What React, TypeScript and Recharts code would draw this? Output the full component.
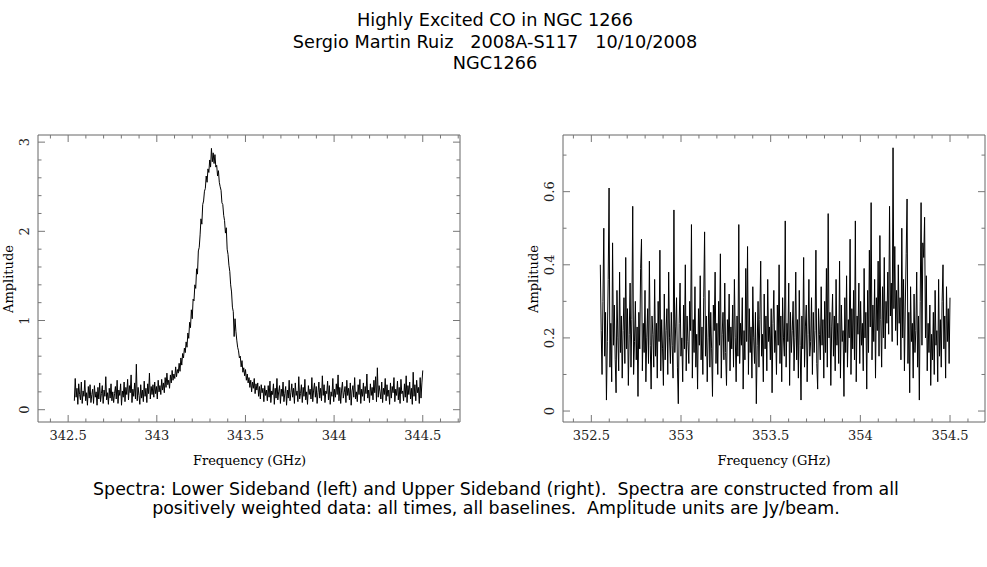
import React from 'react';
import { LineChart, Line, XAxis, YAxis } from 'recharts';

// Lower sideband channels (GHz)
const LSB_START = 342.535;
const LSB_STEP = 0.004925;
const lsbAmplitude = [
  // baseline below the line
  0.1, 0.35, 0.14, 0.24, 0.06, 0.29, 0.17, 0.11, 0.31, 0.07,
  0.21, 0.15, 0.33, 0.1, 0.19, 0.05, 0.26, 0.13, 0.28, 0.08,
  0.17, 0.23, 0.07, 0.27, 0.14, 0.2, 0.05, 0.25, 0.12, 0.3,
  0.09, 0.18, 0.27, 0.07, 0.22, 0.15, 0.37, 0.11, 0.19, 0.06,
  0.24, 0.13, 0.29, 0.1, 0.2, 0.08, 0.18, 0.26, 0.12, 0.33,
  0.07, 0.22, 0.16, 0.29, 0.05, 0.21, 0.14, 0.31, 0.09, 0.25,
  0.17, 0.34, 0.11, 0.27, 0.19, 0.39, 0.08, 0.23, 0.15, 0.3,
  0.12, 0.51, 0.1, 0.25, 0.16, 0.06, 0.28, 0.13, 0.22, 0.09,
  0.32, 0.15, 0.24, 0.08, 0.29, 0.18, 0.41, 0.12, 0.26, 0.17,
  // CO line
  0.28, 0.14, 0.31, 0.18, 0.26, 0.12, 0.33, 0.2, 0.27, 0.17,
  0.34, 0.22, 0.3, 0.19, 0.36, 0.25, 0.41, 0.28, 0.33, 0.24,
  0.39, 0.3, 0.44, 0.33, 0.4, 0.35, 0.48, 0.37, 0.45, 0.41,
  0.52, 0.43, 0.58, 0.5, 0.63, 0.58, 0.69, 0.64, 0.76, 0.7,
  0.86, 0.8, 0.98, 0.92, 1.12, 1.02, 1.24, 1.22, 1.4, 1.36,
  1.58, 1.52, 1.78, 1.82, 1.96, 2.14, 2.08, 2.3, 2.34, 2.45,
  2.48, 2.62, 2.55, 2.7, 2.66, 2.8, 2.72, 2.93, 2.78, 2.88,
  2.76, 2.86, 2.72, 2.74, 2.62, 2.68, 2.55, 2.5, 2.46, 2.32,
  2.3, 2.18, 2.12, 1.98, 2.04, 1.8, 1.74, 1.62, 1.55, 1.4,
  1.32, 1.15, 1.1, 0.82, 1.02, 0.88, 0.78, 0.7, 0.66, 0.58,
  0.6, 0.48, 0.55, 0.42, 0.47, 0.38, 0.45, 0.33, 0.4, 0.3,
  0.36, 0.25, 0.33, 0.2, 0.31, 0.24, 0.35, 0.18, 0.29, 0.22,
  0.3, 0.15, 0.26, 0.12, 0.28, 0.19, 0.24, 0.09, 0.27, 0.16, 0.22,
  // baseline above the line
  0.1, 0.27, 0.14, 0.32, 0.08, 0.21, 0.17, 0.29, 0.06, 0.24,
  0.13, 0.35, 0.11, 0.2, 0.27, 0.07, 0.23, 0.15, 0.31, 0.09,
  0.18, 0.26, 0.05, 0.22, 0.13, 0.33, 0.1, 0.19, 0.29, 0.14,
  0.24, 0.07, 0.3, 0.16, 0.21, 0.09, 0.37, 0.12, 0.18, 0.28,
  0.08, 0.25, 0.15, 0.34, 0.11, 0.2, 0.06, 0.27, 0.17, 0.23,
  0.12, 0.36, 0.09, 0.22, 0.3, 0.14, 0.26, 0.07, 0.19, 0.31,
  0.13, 0.24, 0.1, 0.38, 0.16, 0.28, 0.08, 0.21, 0.18, 0.32,
  0.11, 0.27, 0.06, 0.2, 0.15, 0.35, 0.09, 0.23, 0.14, 0.29,
  0.17, 0.39, 0.1, 0.25, 0.07, 0.22, 0.31, 0.13, 0.19, 0.26,
  0.08, 0.33, 0.16, 0.24, 0.11, 0.3, 0.05, 0.21, 0.27, 0.14,
  0.36, 0.12, 0.2, 0.09, 0.28, 0.17, 0.34, 0.07, 0.23, 0.15,
  0.3, 0.1, 0.26, 0.18, 0.4, 0.13, 0.22, 0.08, 0.29, 0.16,
  0.25, 0.11, 0.33, 0.19, 0.37, 0.09, 0.47, 0.14, 0.27, 0.2,
  0.12, 0.31, 0.08, 0.24, 0.17, 0.35, 0.1, 0.28, 0.15, 0.22,
  0.06, 0.3, 0.13, 0.26, 0.19, 0.36, 0.09, 0.23, 0.16, 0.32,
  0.11, 0.25, 0.07, 0.34, 0.18, 0.21, 0.1, 0.29, 0.14, 0.38,
  0.08, 0.27, 0.17, 0.31, 0.12, 0.24, 0.06, 0.42, 0.15, 0.28,
  0.1, 0.33, 0.19, 0.25, 0.07, 0.36, 0.13, 0.3, 0.44,
];

// Upper sideband channels
const USB_START = 352.55;
const USB_STEP = 0.004887;
const usbAmplitude = [
  0.4, 0.22, 0.1, 0.3, 0.5, 0.15, 0.27, 0.03, 0.19, 0.36,
  0.61, 0.12, 0.24, 0.08, 0.46, 0.18, 0.29, 0.14, 0.05, 0.33,
  0.2, 0.11, 0.38, 0.16, 0.26, 0.09, 0.22, 0.31, 0.13, 0.42,
  0.17, 0.28, 0.07, 0.21, 0.35, 0.12, 0.25, 0.56, 0.1, 0.19,
  0.3, 0.14, 0.23, 0.04, 0.27, 0.17, 0.39, 0.47, 0.11, 0.24,
  0.16, 0.33, 0.08, 0.2, 0.28, 0.13, 0.41, 0.18, 0.06, 0.26,
  0.21, 0.12, 0.36, 0.15, 0.24, 0.09, 0.3, 0.19, 0.44, 0.11,
  0.25, 0.17, 0.07, 0.32, 0.14, 0.22, 0.28, 0.1, 0.38, 0.2,
  0.13, 0.27, 0.18, 0.09, 0.55, 0.16, 0.23, 0.31, 0.12, 0.02,
  0.24, 0.35, 0.15, 0.2, 0.08, 0.29, 0.17, 0.4, 0.11, 0.26,
  0.19, 0.13, 0.3, 0.22, 0.51, 0.09, 0.25, 0.16, 0.34, 0.12,
  0.21, 0.06, 0.28, 0.18, 0.37, 0.14, 0.23, 0.1, 0.31, 0.49,
  0.15, 0.26, 0.08, 0.2, 0.33, 0.12, 0.27, 0.17, 0.04, 0.29,
  0.22, 0.38, 0.13, 0.24, 0.1, 0.3, 0.18, 0.43, 0.09, 0.21,
  0.27, 0.14, 0.35, 0.16, 0.07, 0.25, 0.19, 0.32, 0.11, 0.23,
  0.17, 0.29, 0.12, 0.36, 0.2, 0.08, 0.26, 0.15, 0.51, 0.13,
  0.24, 0.18, 0.31, 0.06, 0.22, 0.14, 0.39, 0.19, 0.45, 0.1,
  0.28, 0.16, 0.23, 0.09, 0.34, 0.2, 0.13, 0.27, 0.02, 0.18,
  0.3, 0.12, 0.25, 0.41, 0.15, 0.21, 0.08, 0.32, 0.17, 0.26,
  0.11, 0.36, 0.19, 0.23, 0.14, 0.28, 0.05, 0.24, 0.33, 0.16,
  0.22, 0.1, 0.29, 0.18, 0.4, 0.13, 0.26, 0.08, 0.31, 0.2,
  0.15, 0.52, 0.12, 0.24, 0.19, 0.35, 0.07, 0.27, 0.16, 0.22,
  0.3, 0.11, 0.2, 0.38, 0.14, 0.25, 0.09, 0.33, 0.18, 0.03,
  0.26, 0.17, 0.42, 0.12, 0.23, 0.29, 0.08, 0.21, 0.36, 0.15,
  0.19, 0.31, 0.1, 0.27, 0.16, 0.22, 0.44, 0.13, 0.06, 0.28,
  0.21, 0.14, 0.34, 0.18, 0.25, 0.09, 0.3, 0.16, 0.39, 0.12,
  0.54, 0.2, 0.27, 0.07, 0.23, 0.32, 0.15, 0.26, 0.11, 0.36,
  0.18, 0.24, 0.13, 0.41, 0.09, 0.29, 0.19, 0.22, 0.04, 0.31,
  0.16, 0.37, 0.12, 0.25, 0.2, 0.47, 0.1, 0.28, 0.17, 0.33,
  0.14, 0.52, 0.08, 0.26, 0.21, 0.35, 0.13, 0.3, 0.18, 0.24,
  0.11, 0.39, 0.2, 0.27, 0.06, 0.33, 0.16, 0.44, 0.23, 0.57,
  0.14, 0.29, 0.19, 0.36, 0.09, 0.31, 0.22, 0.41, 0.15, 0.48,
  0.25, 0.12, 0.34, 0.2, 0.42, 0.17, 0.3, 0.24, 0.38, 0.21,
  0.56, 0.26, 0.35, 0.19, 0.72, 0.28, 0.45, 0.22, 0.33, 0.18,
  0.4, 0.24, 0.31, 0.14, 0.5, 0.2, 0.36, 0.11, 0.29, 0.43,
  0.58, 0.13, 0.27, 0.05, 0.34, 0.19, 0.24, 0.09, 0.32, 0.16,
  0.22, 0.38, 0.12, 0.26, 0.03, 0.3, 0.57, 0.18, 0.46, 0.42,
  0.53, 0.2, 0.37, 0.11, 0.24, 0.16, 0.29, 0.07, 0.21, 0.14,
  0.27, 0.1, 0.33, 0.18, 0.22, 0.08, 0.36, 0.15, 0.25, 0.12,
  0.3, 0.4, 0.17, 0.26, 0.09, 0.34, 0.19, 0.28, 0.13, 0.31,
];

// Tick positions (majors get labels)
const lsbFreqTicks = [342.4, 342.5, 342.6, 342.7, 342.8, 342.9, 343, 343.1, 343.2, 343.3, 343.4, 343.5, 343.6, 343.7, 343.8, 343.9, 344, 344.1, 344.2, 344.3, 344.4, 344.5, 344.6, 344.7];
const lsbFreqMajors = [342.5, 343, 343.5, 344, 344.5];
const lsbAmpTicks = [0, 0.2, 0.4, 0.6, 0.8, 1, 1.2, 1.4, 1.6, 1.8, 2, 2.2, 2.4, 2.6, 2.8, 3];
const lsbAmpMajors = [0, 1, 2, 3];
const usbFreqTicks = [352.4, 352.5, 352.6, 352.7, 352.8, 352.9, 353, 353.1, 353.2, 353.3, 353.4, 353.5, 353.6, 353.7, 353.8, 353.9, 354, 354.1, 354.2, 354.3, 354.4, 354.5, 354.6];
const usbFreqMajors = [352.5, 353, 353.5, 354, 354.5];
const usbAmpTicks = [0, 0.1, 0.2, 0.3, 0.4, 0.5, 0.6, 0.7];
const usbAmpMajors = [0, 0.2, 0.4, 0.6];

const titleLines = ['Highly Excited CO in NGC 1266', 'Sergio Martin Ruiz   2008A-S117   10/10/2008', 'NGC1266'];
const captionLines = [
  'Spectra: Lower Sideband (left) and Upper Sideband (right).  Spectra are constructed from all',
  'positively weighted data: all times, all baselines.  Amplitude units are Jy/beam.',
];

const FRAME = '#666';
const TICK = '#777';
const TICK_FONT = '"DejaVu Serif", serif';
const TICK_SIZE = 13;

const isMajor = (v: number, majors: number[]) => majors.some((m) => Math.abs(m - v) < 1e-6);

const makeTick = (side: 'bottom' | 'top' | 'left' | 'right', majors: number[], showLabel: boolean) =>
  function Tick(props: any) {
    const { x, y, payload } = props;
    const major = isMajor(payload.value, majors);
    const len = major ? 7 : 3.5;
    let x2 = x;
    let y2 = y;
    if (side === 'bottom') y2 = y - len;
    if (side === 'top') y2 = y + len;
    if (side === 'left') x2 = x + len;
    if (side === 'right') x2 = x - len;
    return (
      <g>
        <line x1={x} y1={y} x2={x2} y2={y2} stroke={TICK} strokeWidth={1} />
        {showLabel && major && side === 'bottom' && (
          <text x={x} y={y + 13} textAnchor="middle" dominantBaseline="central" fontFamily={TICK_FONT} fontSize={TICK_SIZE} fill="#222">
            {String(payload.value)}
          </text>
        )}
        {showLabel && major && side === 'left' && (
          <text
            x={x - 13}
            y={y}
            textAnchor="middle"
            dominantBaseline="central"
            fontFamily={TICK_FONT}
            fontSize={TICK_SIZE}
            fill="#222"
            transform={`rotate(-90 ${x - 13} ${y})`}
          >
            {String(payload.value)}
          </text>
        )}
      </g>
    );
  };

interface PanelProps {
  left: number;
  width: number;
  plotLeft: number;
  start: number;
  step: number;
  amps: number[];
  xDomain: [number, number];
  yDomain: [number, number];
  xTicks: number[];
  xMajors: number[];
  yTicks: number[];
  yMajors: number[];
}

function Panel(p: PanelProps) {
  const data = p.amps.map((a, i) => ({ freq: p.start + i * p.step, amp: a }));
  const plotRight = p.plotLeft + 422;
  return (
    <div style={{ position: 'absolute', left: p.left, top: 120 }}>
      <LineChart
        width={p.width}
        height={360}
        data={data}
        margin={{ top: 10, left: p.plotLeft - 30, right: p.width - plotRight - 1, bottom: 28 }}
      >
        <XAxis
          xAxisId="b"
          dataKey="freq"
          type="number"
          domain={p.xDomain}
          allowDataOverflow
          ticks={p.xTicks}
          interval={0}
          height={30}
          tickSize={0}
          tickMargin={0}
          tickLine={false}
          axisLine={{ stroke: FRAME }}
          tick={makeTick('bottom', p.xMajors, true)}
        />
        <XAxis
          xAxisId="t"
          orientation="top"
          dataKey="freq"
          type="number"
          domain={p.xDomain}
          allowDataOverflow
          ticks={p.xTicks}
          interval={0}
          height={5}
          tickSize={0}
          tickMargin={0}
          tickLine={false}
          axisLine={{ stroke: FRAME }}
          tick={makeTick('top', p.xMajors, false)}
        />
        <YAxis
          yAxisId="l"
          type="number"
          domain={p.yDomain}
          allowDataOverflow
          ticks={p.yTicks}
          interval={0}
          width={30}
          tickSize={0}
          tickMargin={0}
          tickLine={false}
          axisLine={{ stroke: FRAME }}
          tick={makeTick('left', p.yMajors, true)}
        />
        <YAxis
          yAxisId="r"
          orientation="right"
          type="number"
          domain={p.yDomain}
          allowDataOverflow
          ticks={p.yTicks}
          interval={0}
          width={1}
          tickSize={0}
          tickMargin={0}
          tickLine={false}
          axisLine={{ stroke: FRAME }}
          tick={makeTick('right', p.yMajors, false)}
        />
        <Line
          xAxisId="b"
          yAxisId="l"
          type="linear"
          dataKey="amp"
          stroke="#000"
          strokeWidth={1}
          dot={false}
          activeDot={false}
          isAnimationActive={false}
        />
      </LineChart>
    </div>
  );
}

const textStyle = (x: number, y: number, font: string, size: number): React.CSSProperties => ({
  position: 'absolute',
  left: x,
  top: y,
  transform: 'translate(-50%, -50%)',
  whiteSpace: 'pre',
  fontFamily: font,
  fontSize: size,
  color: '#000',
  lineHeight: 1,
});

export default function App() {
  const sans = '"DejaVu Sans", sans-serif';
  return (
    <div style={{ position: 'absolute', left: 0, top: 0, width: 987, height: 567, background: '#fff', overflow: 'hidden' }}>
      {titleLines.map((t, i) => (
        <div key={t} style={textStyle(495, 21 + i * 21.5, sans, 17.7)}>
          {t}
        </div>
      ))}
      <Panel
        left={0}
        width={480}
        plotLeft={38}
        start={LSB_START}
        step={LSB_STEP}
        amps={lsbAmplitude}
        xDomain={[342.33, 344.71]}
        yDomain={[-0.138, 3.08]}
        xTicks={lsbFreqTicks}
        xMajors={lsbFreqMajors}
        yTicks={lsbAmpTicks}
        yMajors={lsbAmpMajors}
      />
      <Panel
        left={500}
        width={487}
        plotLeft={63}
        start={USB_START}
        step={USB_STEP}
        amps={usbAmplitude}
        xDomain={[352.342, 354.695]}
        yDomain={[-0.03, 0.755]}
        xTicks={usbFreqTicks}
        xMajors={usbFreqMajors}
        yTicks={usbAmpTicks}
        yMajors={usbAmpMajors}
      />
      <div style={textStyle(249.5, 460, TICK_FONT, TICK_SIZE)}>Frequency (GHz)</div>
      <div style={textStyle(774, 460, TICK_FONT, TICK_SIZE)}>Frequency (GHz)</div>
      <div style={{ ...textStyle(8, 278.5, TICK_FONT, TICK_SIZE), transform: 'translate(-50%, -50%) rotate(-90deg)' }}>Amplitude</div>
      <div style={{ ...textStyle(532.5, 278.5, TICK_FONT, TICK_SIZE), transform: 'translate(-50%, -50%) rotate(-90deg)' }}>Amplitude</div>
      {captionLines.map((t, i) => (
        <div key={t} style={textStyle(496, 490 + i * 18.5, sans, 17.4)}>
          {t}
        </div>
      ))}
    </div>
  );
}
